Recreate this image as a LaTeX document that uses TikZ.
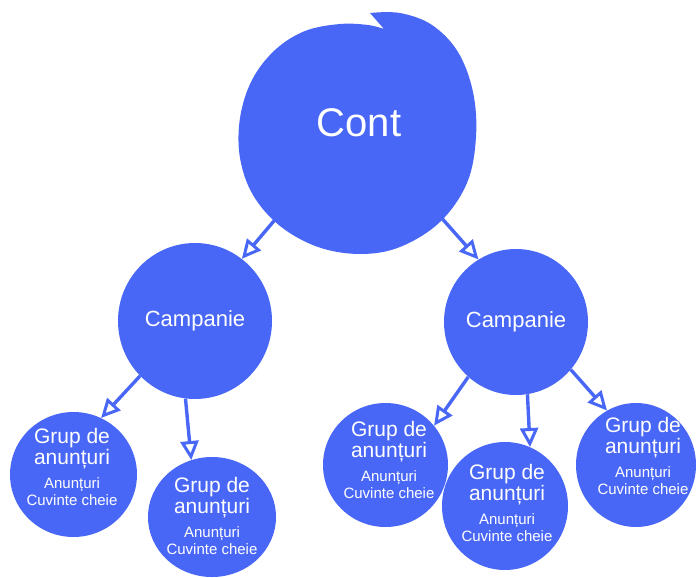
\documentclass[tikz,border=0pt]{standalone}
\usepackage{fontspec}
\setmainfont{Liberation Sans}
\usetikzlibrary{arrows.meta,shapes.geometric}
\definecolor{blobblue}{RGB}{73,103,247}
\newcommand{\grupblock}{\begin{tabular}[t]{@{}c@{}}Grup de\\anunțuri\\[3pt]{\fontsize{15}{15}\selectfont Anunțuri}\\[-4pt]{\fontsize{15}{15}\selectfont Cuvinte cheie}\end{tabular}}
\begin{document}
\begin{tikzpicture}[x=1pt,y=-1pt,
  blob/.style={ellipse, fill=blobblue, inner sep=0pt},
  ghost/.style={ellipse, inner sep=0pt},
  conttext/.style={text=white, font=\fontsize{40}{40}\selectfont},
  camptext/.style={text=white, font=\fontsize{22}{22}\selectfont},
  gtext/.style={text=white, font=\fontsize{21}{21}\selectfont, inner sep=0pt, anchor=base},
  conn/.style={draw=blobblue, line width=3.4pt, -{Triangle[open, length=19pt, width=18pt, line width=3pt]}}]
\useasboundingbox (0,0) rectangle (696,578);
% Cont outline with notch
\fill[blobblue] plot[smooth, tension=0.6] coordinates {(370,13) (400,13) (432,25) (458,52) (473,92) (476,137) (467,183) (440,222) (400,247) (360,254) (318,247) (280,226) (253,195) (240,158) (240,118) (252,80) (275,50) (305,31) (340,24) (368,25) (384,29)} -- cycle;
\node[ghost, minimum size=250pt, conttext] (cont) at (359,123) {Cont};
% Campanie
\node[blob, minimum width=154pt, minimum height=156pt, camptext] (camp1) at (195,321) {Campanie};
\node[blob, minimum width=144pt, minimum height=146pt, camptext] (camp2) at (516,322) {Campanie};
% Grup blobs
\node[blob, minimum width=127pt, minimum height=125pt] (g1) at (73.5,474.5) {};
\node[blob, minimum width=128pt, minimum height=120pt] (g2) at (212,517) {};
\node[blob, minimum width=125pt, minimum height=124pt] (g3) at (385.5,465) {};
\node[blob, minimum width=126pt, minimum height=128pt] (g4) at (505,506) {};
\node[blob, minimum width=120pt, minimum height=124pt] (g5) at (636,465) {};
% texts
\node[gtext] (t1) at (72,443) {\grupblock};
\node[gtext] (t2) at (212,492) {\grupblock};
\node[gtext] (t3) at (389,436) {\grupblock};
\node[gtext] (t4) at (507,479) {\grupblock};
\node[gtext] (t5) at (643,432) {\grupblock};
% connectors
\draw[conn] (cont.229) -- (camp1.53);
\draw[conn] (cont.-49) -- (camp2.121);
\draw[conn] (camp1.225) -- (g1.64);
\draw[conn] (camp1.263) -- (g2.110);
\draw[conn] (camp2.229) -- (g3.39);
\draw[conn] (camp2.279) -- (g4.67);
\draw[conn] (camp2.319) -- (g5.118);
\end{tikzpicture}
\end{document}
